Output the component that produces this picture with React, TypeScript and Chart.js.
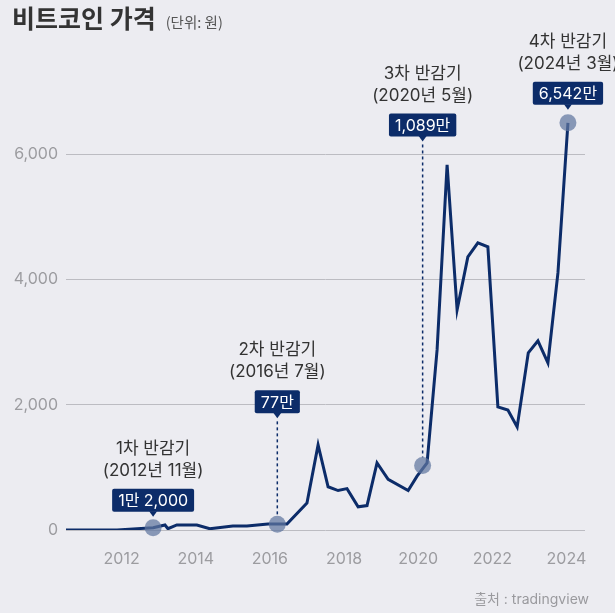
import React, { useEffect, useRef } from "react";
import { Chart, registerables } from "chart.js";

Chart.register(...registerables);

// Bitcoin price (unit: 만원)
const years = [
  2010.5, 2011.88, 2012.85, 2013.17, 2013.25, 2013.49, 2014.03, 2014.38, 2015.0, 2015.38,
  2015.95, 2016.46, 2017.0, 2017.3, 2017.57, 2017.84, 2018.08, 2018.38, 2018.62, 2018.89,
  2019.19, 2019.73, 2019.97, 2020.24, 2020.51, 2020.78, 2021.05, 2021.34, 2021.61, 2021.88,
  2022.15, 2022.42, 2022.67, 2022.97, 2023.23, 2023.5, 2023.77, 2024.04,
];
const prices = [
  0, 0, 37, 80, 20, 80, 80, 20, 65, 65,
  95, 95, 430, 1357, 690, 630, 660, 370, 390, 1070,
  810, 630, 860, 1070, 2875, 5830, 3513, 4360, 4584, 4520,
  1964, 1916, 1645, 2827, 3018, 2667, 4104, 6500,
];
const yTicks = [0, 2000, 4000, 6000];
const xTicks = [2012, 2014, 2016, 2018, 2020, 2022, 2024];

const halvingTitles = ["1차 반감기", "2차 반감기", "3차 반감기", "4차 반감기"];
const halvingDates = ["(2012년 11월)", "(2016년 7월)", "(2020년 5월)", "(2024년 3월)"];
const halvingLabels = ["1만 2,000", "77만", "1,089만", "6,542만"];
const halvingX = [2012.85, 2016.2, 2020.12, 2024.04];
const halvingY = [37, 90, 1030, 6500];

const NAVY = "#0c2c69";
const FONT = "Inter, 'Noto Sans CJK KR', sans-serif";
const LIFTS = [11, 106, 324, 13];

const halvingPlugin = {
  id: "halving",
  afterDatasetsDraw(chart: any) {
    const { ctx } = chart;
    const xs = chart.scales.x;
    const ys = chart.scales.y;
    ctx.save();
    halvingX.forEach((hx, i) => {
      const cx = xs.getPixelForValue(hx);
      const cy = ys.getPixelForValue(halvingY[i]);
      const tip = cy - LIFTS[i];
      if (LIFTS[i] > 30) {
        ctx.setLineDash([3, 3]);
        ctx.strokeStyle = NAVY;
        ctx.lineWidth = 1.5;
        ctx.beginPath();
        ctx.moveTo(cx, tip + 3);
        ctx.lineTo(cx, cy - 8);
        ctx.stroke();
        ctx.setLineDash([]);
      }
      ctx.fillStyle = "rgba(96,118,160,0.72)";
      ctx.beginPath();
      ctx.arc(cx, cy, 8.5, 0, Math.PI * 2);
      ctx.fill();

      ctx.font = "16px " + FONT;
      const w = ctx.measureText(halvingLabels[i]).width + 12;
      const h = 23;
      const bBottom = tip - 5;
      const bTop = bBottom - h;
      ctx.fillStyle = NAVY;
      ctx.beginPath();
      ctx.roundRect(cx - w / 2, bTop, w, h, 2);
      ctx.fill();
      ctx.beginPath();
      ctx.moveTo(cx - 4, bBottom - 0.5);
      ctx.lineTo(cx + 4, bBottom - 0.5);
      ctx.lineTo(cx, tip);
      ctx.closePath();
      ctx.fill();
      ctx.fillStyle = "#ffffff";
      ctx.textAlign = "center";
      ctx.textBaseline = "middle";
      ctx.fillText(halvingLabels[i], cx, bTop + h / 2 + 1);

      ctx.font = "17px " + FONT;
      ctx.fillStyle = "#333333";
      ctx.fillText(halvingDates[i], cx, bTop - 18);
      ctx.fillText(halvingTitles[i], cx, bTop - 40);
    });
    ctx.restore();
  },
};

export default function App() {
  const ref = useRef<HTMLCanvasElement | null>(null);
  useEffect(() => {
    if (!ref.current) return;
    const chart = new Chart(ref.current, {
      type: "line",
      data: {
        datasets: [
          {
            data: years.map((x, i) => ({ x, y: prices[i] })),
            borderColor: NAVY,
            borderWidth: 3,
            pointRadius: 0,
            tension: 0,
            fill: false,
          },
        ],
      },
      options: {
        animation: false,
        responsive: false,
        layout: { padding: { top: 104, right: 30, bottom: 43, left: 0 } },
        plugins: { legend: { display: false }, tooltip: { enabled: false }, title: { display: false } },
        scales: {
          x: {
            type: "linear",
            min: 2010.5,
            max: 2024.5,
            afterBuildTicks: (s: any) => {
              s.ticks = xTicks.map((v) => ({ value: v }));
            },
            afterFit: (s: any) => {
              s.height = 40;
            },
            grid: { display: false, drawTicks: false },
            border: { display: false },
            ticks: {
              padding: 20,
              color: "#9c9ca0",
              font: { family: FONT, size: 16 },
              callback: (v: any) => String(v),
              maxRotation: 0,
              autoSkip: false,
            },
          },
          y: {
            type: "linear",
            min: 0,
            max: 6800,
            afterBuildTicks: (s: any) => {
              s.ticks = yTicks.map((v) => ({ value: v }));
            },
            afterFit: (s: any) => {
              s.width = 66;
            },
            grid: { color: "#bcbcc2", lineWidth: 1, drawTicks: false },
            border: { display: false },
            ticks: {
              padding: 8,
              color: "#9c9ca0",
              font: { family: FONT, size: 16 },
              callback: (v: any) => Number(v).toLocaleString("en-US"),
            },
          },
        },
      },
      plugins: [halvingPlugin],
    });
    return () => chart.destroy();
  }, []);

  return (
    <div
      style={{
        position: "fixed",
        left: 0,
        top: 0,
        width: 615,
        height: 613,
        background: "#ececf1",
        overflow: "hidden",
        fontFamily: FONT,
      }}
    >
      <canvas ref={ref} width={615} height={613} style={{ position: "absolute", left: 0, top: 0 }} />
      <div style={{ position: "absolute", left: 12, top: -1, whiteSpace: "nowrap" }}>
        <span style={{ fontSize: 25, fontWeight: 700, color: "#333333", fontFamily: "'Noto Sans CJK KR', sans-serif" }}>
          비트코인 가격
        </span>
        <span style={{ fontSize: 14.5, color: "#555555", marginLeft: 10, fontFamily: "'Noto Sans CJK KR', sans-serif" }}>
          (단위: 원)
        </span>
      </div>
      <div
        style={{
          position: "absolute",
          right: 26,
          top: 588,
          fontSize: 14,
          color: "#9a9a9e",
          whiteSpace: "nowrap",
        }}
      >
        출처 : tradingview
      </div>
    </div>
  );
}
